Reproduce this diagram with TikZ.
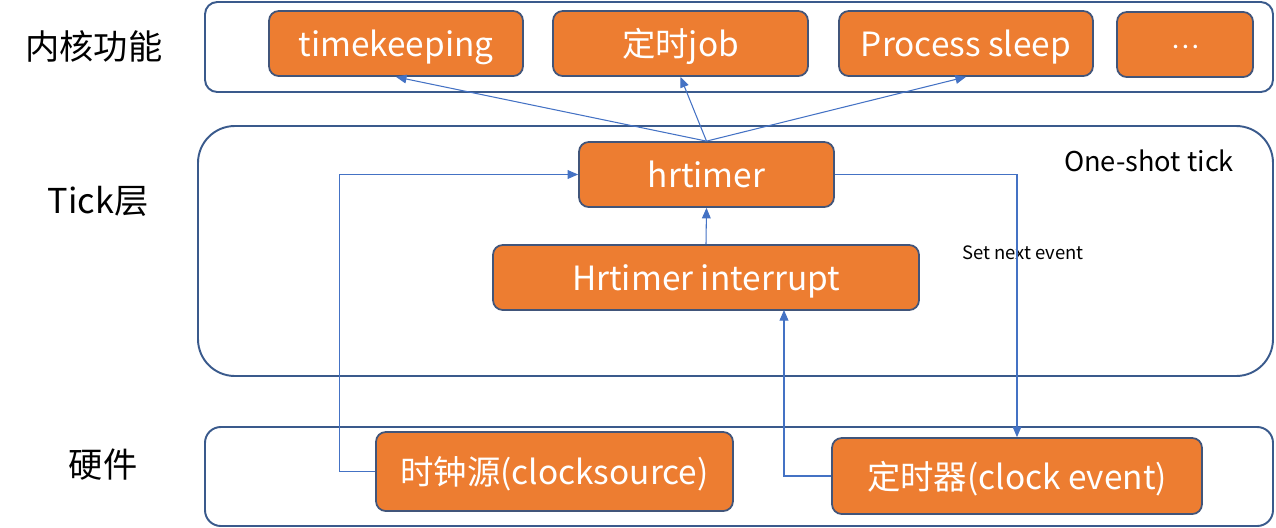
\documentclass[tikz,border=0pt]{standalone}
\usepackage{fontspec}
\setmainfont{Noto Sans CJK SC}
\usetikzlibrary{arrows.meta}
\definecolor{boxfill}{HTML}{ED7D31}
\definecolor{boxline}{HTML}{41557A}
\definecolor{frameline}{HTML}{3A5A8C}
\definecolor{arrline}{HTML}{4472C4}

\begin{document}
\begin{tikzpicture}[x=0.02cm,y=-0.02cm,
	layer/.style={draw=frameline,line width=1.1pt},
	blk/.style={draw=boxline,fill=boxfill,line width=1pt,rounded corners=5.5pt,
		text=white,inner sep=0pt,text height=18pt,text depth=2.7pt,
		font=\fontsize{19}{22}\selectfont},
	lbl/.style={font=\fontsize{19.5}{23}\selectfont},
	arr/.style={draw=arrline,line width=0.6pt,-{Triangle[length=6pt,width=5pt]}}]
	\useasboundingbox (0,0) rectangle (1276,528);
	\draw[layer,rounded corners=7pt] (205,2) rectangle (1273,92);
	\draw[layer,rounded corners=21pt] (198,126) rectangle (1273,376);
	\draw[layer,rounded corners=9pt] (205,427) rectangle (1273,526);
	\node[lbl] (kern) at (94,46) {内核功能};
	\node[lbl] (tick) at (98,201) {Tick层};
	\node[lbl] (hw) at (103,465) {硬件};
	\node[blk,minimum width=5.08cm,minimum height=1.3cm] (tk) at (396,43.5) {timekeeping};
	\node[blk,minimum width=5.1cm,minimum height=1.3cm] (job) at (680.5,43.5) {定时job};
	\node[blk,minimum width=5.08cm,minimum height=1.3cm] (ps) at (966,43.5) {Process sleep};
	\node[blk,minimum width=2.72cm,minimum height=1.3cm,text height=4pt,text depth=0pt,
		font=\fontsize{15}{18}\selectfont] (more) at (1185,44.5) {…};
	\node[blk,minimum width=5.1cm,minimum height=1.3cm] (hr) at (706.5,174.5) {hrtimer};
	\node[blk,minimum width=8.52cm,minimum height=1.3cm] (irq) at (706,277.5) {Hrtimer interrupt};
	\node[blk,minimum width=7.14cm,minimum height=1.58cm] (cs) at (554.5,471.5) {时钟源(clocksource)};
	\node[blk,minimum width=7.4cm,minimum height=1.52cm] (ce) at (1017,476) {定时器(clock event)};
	\node[font=\fontsize{15.5}{19}\selectfont] (mode) at (1149,161) {One-shot tick};
	\node[font=\fontsize{10.5}{12}\selectfont] (sne) at (1023,253) {Set next event};
	\coordinate (irqin) at (784,310);
	\draw[arr] (hr.north) -- (tk.south);
	\draw[arr] (hr.north) -- (job.south);
	\draw[arr] (hr.north) -- (ps.south);
	\draw[arr] (irq.north) -- (hr.south);
	\draw[arr] (cs.west) -- ++(-36,0) |- (hr.west);
	\draw[arr] (ce.west) -| (irqin);
	\draw[arr] (hr.east) -| (ce.north);
\end{tikzpicture}
\end{document}
